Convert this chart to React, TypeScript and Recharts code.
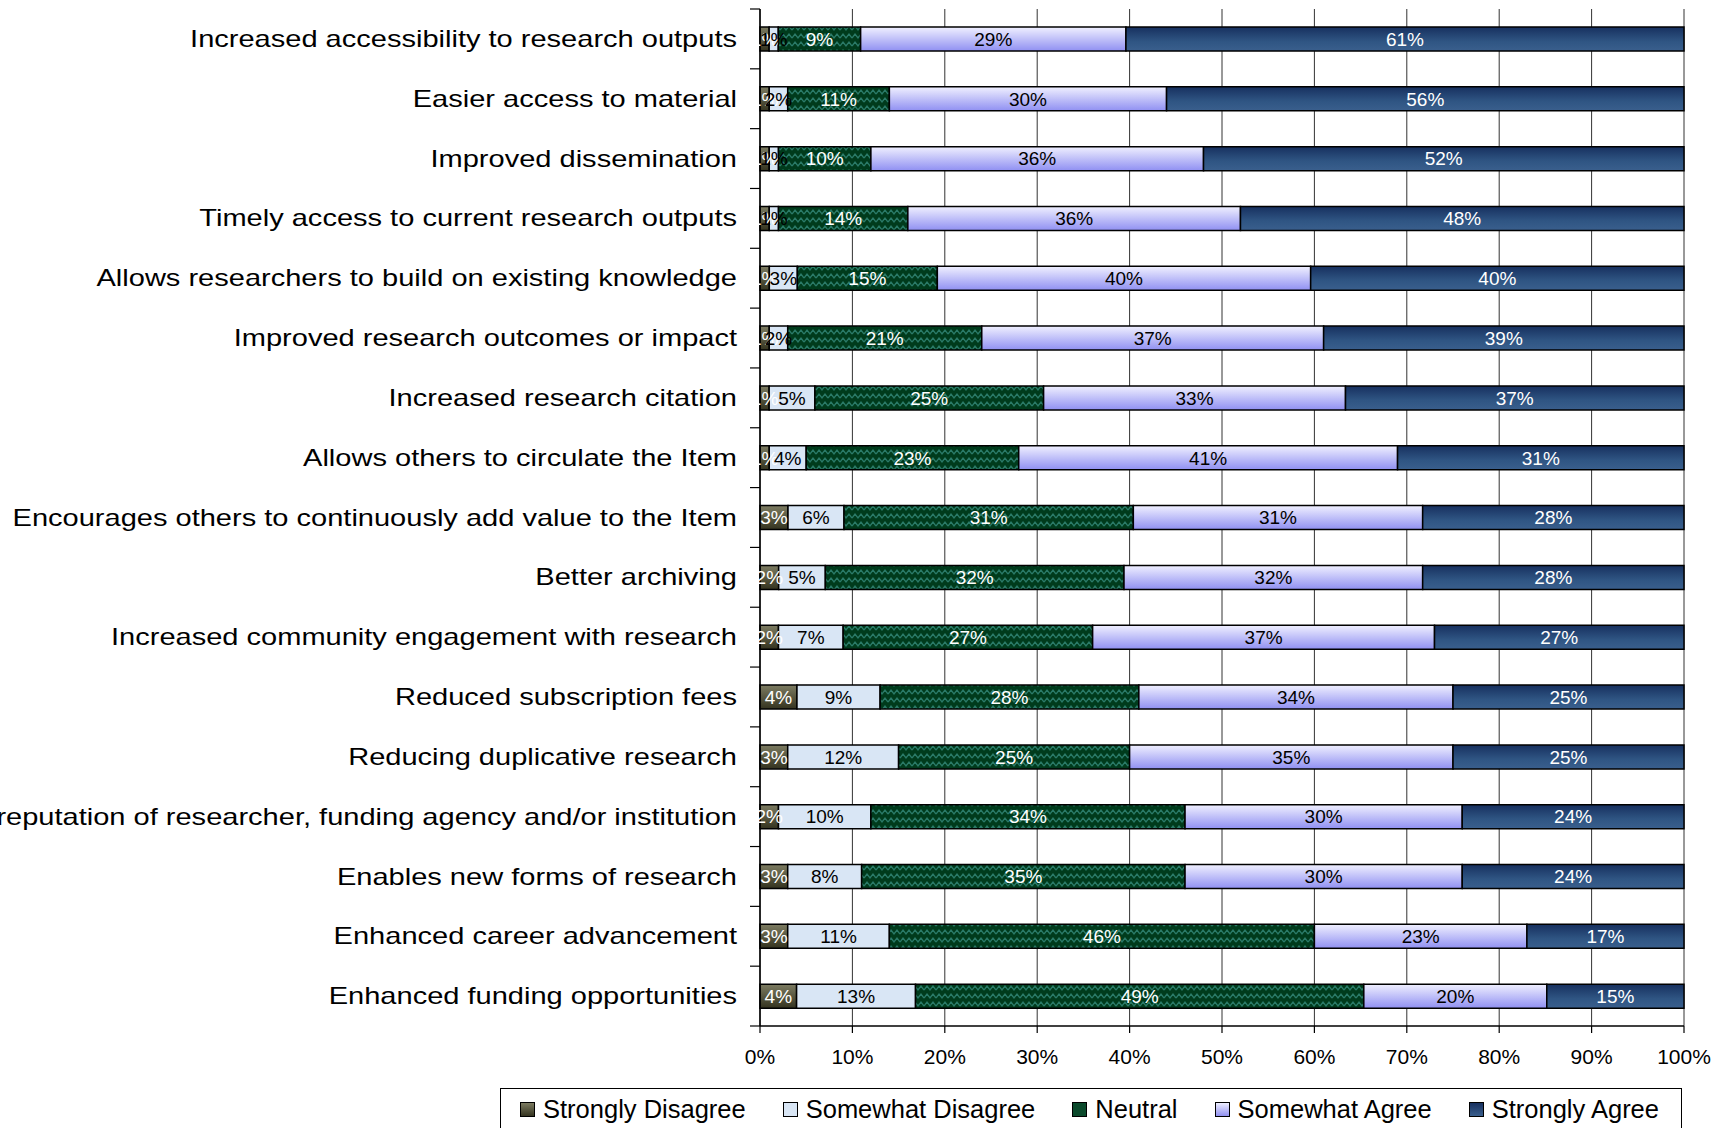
import { BarChart, Bar, XAxis, YAxis, CartesianGrid, LabelList, Legend } from "recharts";

const FONT = "'Liberation Sans', Arial, sans-serif";

// survey statements, top to bottom
const categories = [
  "Increased accessibility to research outputs",
  "Easier access to material",
  "Improved dissemination",
  "Timely access to current research outputs",
  "Allows researchers to build on existing knowledge",
  "Improved research outcomes or impact",
  "Increased research citation",
  "Allows others to circulate the Item",
  "Encourages others to continuously add value to the Item",
  "Better archiving",
  "Increased community engagement with research",
  "Reduced subscription fees",
  "Reducing duplicative research",
  "Enhanced reputation of researcher, funding agency and/or institution",
  "Enables new forms of research",
  "Enhanced career advancement",
  "Enhanced funding opportunities",
];

// answer shares in percent
const stronglyDisagree = [1, 1, 1, 1, 1, 1, 1, 1, 3, 2, 2, 4, 3, 2, 3, 3, 4];
const somewhatDisagree = [1, 2, 1, 1, 3, 2, 5, 4, 6, 5, 7, 9, 12, 10, 8, 11, 13];
const neutral = [9, 11, 10, 14, 15, 21, 25, 23, 31, 32, 27, 28, 25, 34, 35, 46, 49];
const somewhatAgree = [29, 30, 36, 36, 40, 37, 33, 41, 31, 32, 37, 34, 35, 30, 30, 23, 20];
const stronglyAgree = [61, 56, 52, 48, 40, 39, 37, 31, 28, 28, 27, 25, 25, 24, 24, 17, 15];

const xTicks = [0, 0.1, 0.2, 0.3, 0.4, 0.5, 0.6, 0.7, 0.8, 0.9, 1];

const data = categories.map((name, i) => ({
  name,
  sd: stronglyDisagree[i],
  swd: somewhatDisagree[i],
  n: neutral[i],
  swa: somewhatAgree[i],
  sa: stronglyAgree[i],
}));

const SERIES = [
  { key: "sd", name: "Strongly Disagree", fill: "url(#gradSD)", text: "#ffffff", swatch: "linear-gradient(#7d7c62, #34331f)" },
  { key: "swd", name: "Somewhat Disagree", fill: "#d9e6f5", text: "#000000", swatch: "#d9e6f5" },
  { key: "n", name: "Neutral", fill: "url(#patNeutral)", text: "#ffffff", swatch: "#0b4a2c" },
  { key: "swa", name: "Somewhat Agree", fill: "url(#gradSWA)", text: "#000000", swatch: "linear-gradient(#eeeeff, #9090f0)" },
  { key: "sa", name: "Strongly Agree", fill: "url(#gradSA)", text: "#ffffff", swatch: "linear-gradient(#17305f, #3a5f8d)" },
];

const TICK_SIZE = 10;
const TICK_MARGIN = 13;

// category label plus tick marks on the band boundaries
function CategoryTick(props: any) {
  const { x, y, payload, index, visibleTicksCount } = props;
  const axisX = x + TICK_SIZE + TICK_MARGIN;
  const half = payload && payload.offset > 0 ? payload.offset : 29.9;
  return (
    <g>
      <line x1={axisX - TICK_SIZE} x2={axisX} y1={y - half} y2={y - half} stroke="#000" strokeWidth={1.2} />
      {index === visibleTicksCount - 1 && (
        <line x1={axisX - TICK_SIZE} x2={axisX} y1={y + half} y2={y + half} stroke="#000" strokeWidth={1.2} />
      )}
      <text
        transform={`translate(${x},${y}) scale(1.21,1)`}
        textAnchor="end"
        dominantBaseline="central"
        fontSize={24}
        fontFamily={FONT}
        fill="#000"
      >
        {payload.value}
      </text>
    </g>
  );
}

const renderLegend = () => (
  <div
    style={{
      position: "absolute",
      left: 500,
      top: 1088,
      width: 1182,
      height: 50,
      boxSizing: "border-box",
      border: "1px solid #000",
      background: "#fff",
      display: "flex",
      alignItems: "flex-start",
      paddingLeft: 19,
      paddingTop: 6,
      gap: 37,
      fontFamily: FONT,
      fontSize: 25.5,
      color: "#000",
      whiteSpace: "nowrap",
    }}
  >
    {SERIES.map((s) => (
      <div key={s.key} style={{ display: "flex", alignItems: "center", gap: 8 }}>
        <div
          style={{
            width: 13,
            height: 13,
            border: "1px solid #000",
            background: s.swatch,
          }}
        />
        <span>{s.name}</span>
      </div>
    ))}
  </div>
);

export default function App() {
  return (
    <div style={{ position: "absolute", left: 0, top: 0, background: "#fff" }}>
      <BarChart
        width={1724}
        height={1128}
        data={data}
        layout="vertical"
        stackOffset="expand"
        margin={{ top: 9, right: 40, bottom: 0, left: 0 }}
      >
        <defs>
          <linearGradient id="gradSD" x1="0" y1="0" x2="0" y2="1">
            <stop offset="0%" stopColor="#7d7c62" />
            <stop offset="100%" stopColor="#34331f" />
          </linearGradient>
          <linearGradient id="gradSWA" x1="0" y1="0" x2="0" y2="1">
            <stop offset="0%" stopColor="#f0f0ff" />
            <stop offset="100%" stopColor="#9090f2" />
          </linearGradient>
          <linearGradient id="gradSA" x1="0" y1="0" x2="0" y2="1">
            <stop offset="0%" stopColor="#17305f" />
            <stop offset="60%" stopColor="#2f5583" />
            <stop offset="100%" stopColor="#3a5f8d" />
          </linearGradient>
          <pattern id="patNeutral" width="12" height="8" patternUnits="userSpaceOnUse">
            <rect width="12" height="8" fill="#003b1c" />
            <path d="M0 6 L3 2 L6 6 L9 2 L12 6" fill="none" stroke="#2a7a68" strokeWidth="1.3" />
          </pattern>
        </defs>
        <CartesianGrid horizontal={false} stroke="#333" strokeWidth={1} />
        <XAxis
          type="number"
          domain={[0, 1]}
          ticks={xTicks}
          interval={0}
          tickFormatter={(v: number) => `${Math.round(v * 100)}%`}
          axisLine={{ stroke: "#000", strokeWidth: 1.5 }}
          tickLine={{ stroke: "#000", strokeWidth: 1.2 }}
          tickSize={7}
          tickMargin={16}
          height={102}
          tick={{ fontSize: 21, fill: "#000", fontFamily: FONT }}
        />
        <YAxis
          type="category"
          dataKey="name"
          width={760}
          interval={0}
          tickLine={false}
          tickSize={TICK_SIZE}
          tickMargin={TICK_MARGIN}
          axisLine={{ stroke: "#000", strokeWidth: 1.5 }}
          tick={<CategoryTick />}
        />
        {SERIES.map((s) => (
          <Bar
            key={s.key}
            dataKey={s.key}
            name={s.name}
            stackId="a"
            barSize={24}
            fill={s.fill}
            stroke="#000"
            strokeWidth={1.5}
            isAnimationActive={false}
          >
            <LabelList
              dataKey={s.key}
              position="center"
              formatter={(v: number) => `${v}%`}
              fill={s.text}
              fontSize={19}
              fontFamily={FONT}
            />
          </Bar>
        ))}
        <Legend
          content={renderLegend}
          wrapperStyle={{ position: "absolute", left: 0, top: 0, width: 0, height: 0 }}
        />
      </BarChart>
    </div>
  );
}
